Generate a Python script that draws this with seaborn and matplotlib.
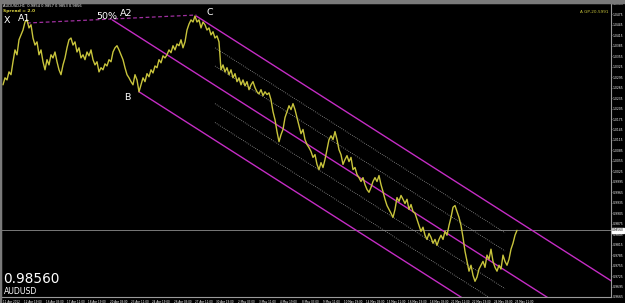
import numpy as np
import pandas as pd
import matplotlib
matplotlib.use("Agg")
import matplotlib.pyplot as plt
import seaborn as sns

# ---------------- data ----------------
step_bars = 3  # price sampled every 3 H1 bars
prices = [
    1.0273, 1.0293, 1.0287, 1.0310, 1.0302, 1.0339, 1.0373, 1.0359, 1.0402, 1.0416,
    1.0430, 1.0453, 1.0459, 1.0436, 1.0445, 1.0407, 1.0387, 1.0396, 1.0359, 1.0373,
    1.0339, 1.0316, 1.0345, 1.0330, 1.0359, 1.0350, 1.0367, 1.0339, 1.0316, 1.0302,
    1.0330, 1.0350, 1.0379, 1.0402, 1.0407, 1.0387, 1.0396, 1.0367, 1.0379, 1.0350,
    1.0359, 1.0345, 1.0367, 1.0356, 1.0373, 1.0345, 1.0330, 1.0339, 1.0310, 1.0322,
    1.0316, 1.0333, 1.0327, 1.0345, 1.0339, 1.0367, 1.0379, 1.0385, 1.0373, 1.0359,
    1.0345, 1.0322, 1.0302, 1.0293, 1.0282, 1.0273, 1.0302, 1.0287, 1.0253, 1.0273,
    1.0293, 1.0282, 1.0305, 1.0296, 1.0316, 1.0307, 1.0327, 1.0322, 1.0345, 1.0336,
    1.0356, 1.0350, 1.0359, 1.0373, 1.0365, 1.0385, 1.0373, 1.0390, 1.0385, 1.0402,
    1.0379, 1.0396, 1.0430, 1.0447, 1.0459, 1.0453, 1.0470, 1.0453, 1.0459, 1.0436,
    1.0453, 1.0445, 1.0430, 1.0436, 1.0416, 1.0425, 1.0407, 1.0413, 1.0396,
    1.0316, 1.0330, 1.0310, 1.0322, 1.0302, 1.0316, 1.0293, 1.0305, 1.0282, 1.0293,
    1.0273, 1.0287, 1.0270, 1.0282, 1.0259, 1.0273, 1.0282, 1.0265, 1.0253, 1.0247,
    1.0259, 1.0242, 1.0253, 1.0245, 1.0250, 1.0230, 1.0196, 1.0173, 1.0139, 1.0110,
    1.0130, 1.0145, 1.0179, 1.0196, 1.0213, 1.0202, 1.0219, 1.0202, 1.0179, 1.0156,
    1.0133, 1.0145, 1.0116, 1.0102, 1.0093, 1.0082, 1.0065, 1.0073, 1.0045, 1.0030,
    1.0050, 1.0036, 1.0059, 1.0087, 1.0116, 1.0127, 1.0116, 1.0139, 1.0116, 1.0087,
    1.0073, 1.0045, 1.0059, 1.0070, 1.0053, 1.0065, 1.0030, 1.0036, 1.0016, 1.0007,
    0.9996, 1.0007, 0.9987, 0.9973, 0.9965, 0.9979, 0.9996, 1.0007, 0.9996, 1.0013,
    0.9987, 0.9967, 0.9945, 0.9927, 0.9916, 0.9905, 0.9893, 0.9916, 0.9950, 0.9939,
    0.9956, 0.9945, 0.9933, 0.9945, 0.9916, 0.9930, 0.9910, 0.9905, 0.9887, 0.9870,
    0.9853, 0.9865, 0.9842, 0.9830, 0.9847, 0.9836, 0.9819, 0.9830, 0.9813, 0.9830,
    0.9842, 0.9830, 0.9853, 0.9842, 0.9870, 0.9893, 0.9922, 0.9927, 0.9910, 0.9893,
    0.9870, 0.9836, 0.9796, 0.9767, 0.9739, 0.9756, 0.9727, 0.9710, 0.9722, 0.9745,
    0.9756, 0.9767, 0.9750, 0.9785, 0.9773, 0.9802, 0.9767, 0.9750, 0.9739, 0.9756,
    0.9745, 0.9785, 0.9767, 0.9756, 0.9773, 0.9802, 0.9819, 0.9842, 0.9856,
]
last_price = 0.98560

x_tick_labels = [
    "11 Apr 2012", "12 Apr 19:00", "16 Apr 03:00", "17 Apr 11:00", "18 Apr 19:00",
    "20 Apr 03:00", "23 Apr 11:00", "24 Apr 19:00", "26 Apr 03:00", "27 Apr 11:00",
    "30 Apr 19:00", "2 May 03:00", "3 May 11:00", "4 May 19:00", "8 May 03:00",
    "9 May 11:00", "10 May 19:00", "14 May 03:00", "15 May 11:00", "16 May 19:00",
    "18 May 03:00", "21 May 11:00", "22 May 19:00", "24 May 03:00", "25 May 11:00",
]
label_step_bars = 32

y_ticks = [1.0505, 1.0475, 1.0445, 1.0415, 1.0385, 1.0355, 1.0325, 1.0295, 1.0265,
           1.0235, 1.0205, 1.0175, 1.0145, 1.0115, 1.0085, 1.0055, 1.0025, 0.9995,
           0.9965, 0.9935, 0.9905, 0.9875, 0.9845, 0.9815, 0.9785, 0.9755, 0.9725,
           0.9695, 0.9665]

# pitchfork / channel lines (bar, price) endpoints
upper_bars, upper_prices = [290, 915], [1.0470, 0.9708]
median_bars, median_prices = [164, 915], [1.0459, 0.9544]
lower_bars, lower_prices = [204, 915], [1.0253, 0.9387]
ac_bars, ac_prices = [36, 290], [1.0450, 1.0473]
dotted_bars = [318, 753]
dotted_prices = [[1.0379, 0.9849], [1.0327, 0.9797], [1.0219, 0.9689], [1.0165, 0.9635]]

wave_labels = ["X", "A1", "50%", "A2", "C", "B"]
wave_bars = [6, 31.5, 156, 184.5, 310.5, 186]
wave_prices = [1.0456, 1.0462, 1.0470, 1.0476, 1.0479, 1.0236]

# ---------------- plot ----------------
sns.set_theme(style="dark")
plt.rcParams['font.family'] = ['DejaVu Sans']

W, H = 625, 303
fig = plt.figure(figsize=(W / 100, H / 100), dpi=100, facecolor="black")
ax = fig.add_axes([1 / W, 6 / H, 610 / W, 294 / H], facecolor="black")

df = pd.DataFrame({"bar": np.arange(len(prices)) * step_bars, "price": prices})

mag = "#c42cc4"
for bx, py in [(upper_bars, upper_prices), (median_bars, median_prices), (lower_bars, lower_prices)]:
    ax.plot(bx, py, color=mag, lw=1.0, zorder=2)
ax.plot(ac_bars, ac_prices, color="#a030a0", lw=0.9, ls=(0, (3, 2)), zorder=2)
for dp in dotted_prices:
    ax.plot(dotted_bars, dp, color="#9a9a9a", lw=0.6, ls=(0, (1, 1.5)), zorder=2)

ax.axhline(last_price, color="#8c8c8c", lw=0.6, zorder=1)

sns.lineplot(data=df, x="bar", y="price", ax=ax, color="#c8c43c", lw=1.0, zorder=3)

for t, bx, py in zip(wave_labels, wave_bars, wave_prices):
    ax.text(bx, py, t, color="white", fontsize=6.8, ha="center", va="center", zorder=5)

ax.set_xlim(-3, 912)
ax.set_ylim(0.96674, 1.05074)
ax.set_xlabel("")
ax.set_ylabel("")

ax.set_xticks(np.arange(len(x_tick_labels)) * label_step_bars)
ax.set_xticklabels(x_tick_labels, fontsize=2.0, color="white", ha="left")
ax.yaxis.tick_right()
ax.set_yticks(y_ticks)
ax.set_yticklabels([f"{v:.4f}" for v in y_ticks], fontsize=2.2, color="white")
ax.tick_params(axis="both", length=1.0, width=0.4, color="#aaaaaa", pad=0.4)
ax.tick_params(axis="x", pad=0.8)
ax.grid(False)
for s in ax.spines.values():
    s.set_color("#9a9a9a")
    s.set_linewidth(0.8)

ax.text(1.002, last_price, "0.98560", transform=ax.get_yaxis_transform(), fontsize=2.1,
        color="black", va="center", ha="left",
        bbox=dict(boxstyle="square,pad=0.12", fc="white", ec="white"))

ax.text(0.004, 0.995, "AUDUSD,H1  0.9854 0.9857 0.9853 0.9856", transform=ax.transAxes,
        fontsize=2.6, color="white", va="top", ha="left")
ax.text(0.004, 0.978, "Spread = 2.0", transform=ax.transAxes,
        fontsize=3.2, color="#d8d040", va="top", ha="left", fontweight="bold")
ax.text(0.995, 0.975, "A GP-20-5991", transform=ax.transAxes,
        fontsize=3.0, color="#c8c43c", va="top", ha="right")

ax.text(0.004, 0.036, "0.98560", transform=ax.transAxes, fontsize=9.8, color="white",
        va="bottom", ha="left")
ax.text(0.004, 0.003, "AUDUSD", transform=ax.transAxes, fontsize=5.6, color="white",
        va="bottom", ha="left")

fig.patches.append(plt.Rectangle((0, 1 - 2.5 / H), 1, 2.5 / H, transform=fig.transFigure,
                                 color="#7a7a7a", zorder=10))
fig.patches.append(plt.Rectangle((0, 0), 1.2 / W, 1, transform=fig.transFigure,
                                 color="#7a7a7a", zorder=10))

fig.savefig("out.png", dpi=100, facecolor="black")
